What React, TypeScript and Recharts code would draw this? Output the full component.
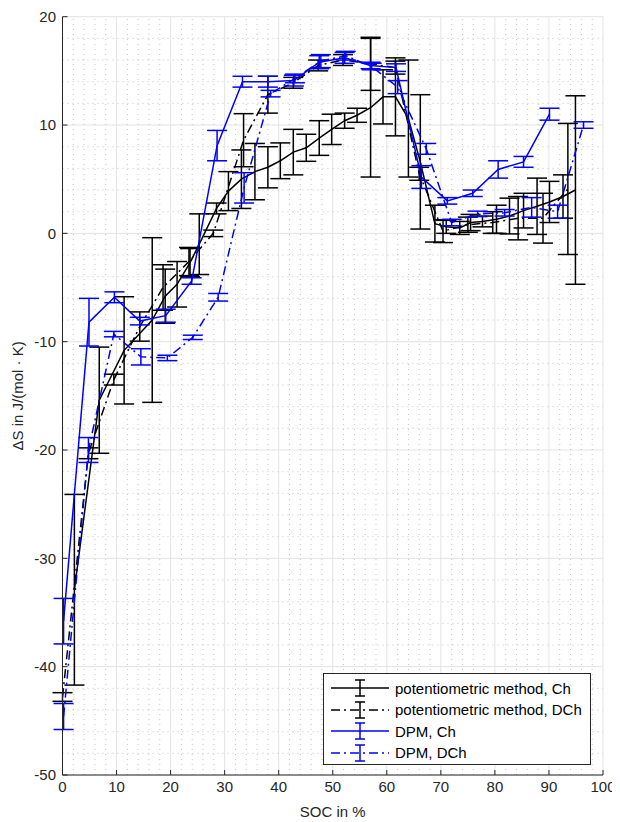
import React from "react";
import {
  ComposedChart,
  Line,
  XAxis,
  YAxis,
  CartesianGrid,
  ErrorBar,
  ReferenceLine,
} from "recharts";

// ---------- data ----------
const potChSoc = [2.2, 6.8, 11.4, 16.6, 19.0, 21.2, 23.6, 25.3, 28.5, 30.7, 33.1, 35.6, 38.0, 40.3, 42.7, 45.1, 47.5, 49.8, 52.2, 54.5, 57.0, 59.3, 61.6, 64.0, 66.2, 68.9, 71.0, 73.5, 75.5, 77.7, 80.3, 82.7, 85.3, 87.8, 90.1, 92.6, 94.9];
const potChDs = [-32.9, -15.4, -10.8, -8.0, -5.8, -4.7, -2.7, -1.0, 2.3, 3.9, 5.0, 5.7, 6.1, 6.7, 7.5, 7.9, 8.8, 9.6, 10.4, 10.9, 11.6, 12.6, 12.6, 10.6, 6.6, 0.9, 0.6, 0.5, 1.0, 1.1, 1.3, 1.6, 2.1, 2.5, 2.9, 3.4, 4.0];
const potChErr = [8.8, 4.9, 4.95, 7.6, 2.5, 2.1, 1.3, 2.8, 0.5, 1.8, 2.7, 2.6, 1.9, 1.65, 2.1, 1.25, 1.6, 1.4, 0.7, 0.65, 6.4, 2.5, 3.6, 5.4, 6.2, 1.7, 0.6, 0.6, 0.75, 0.5, 1.3, 1.65, 1.6, 2.6, 1.9, 2.0, 8.7];

const potDchSoc = [0.0, 4.8, 9.5, 14.3, 18.6, 23.4, 27.9, 33.5, 38.0, 42.7, 47.3, 51.9, 57.0, 61.6, 66.0, 70.4, 75.0, 79.6, 84.3, 88.9, 93.5];
const potDchDs = [-42.8, -20.3, -13.5, -8.6, -5.0, -2.6, 0.0, 8.6, 12.8, 13.9, 15.5, 16.0, 15.65, 15.3, 5.5, 0.2, 0.8, 1.0, 1.4, 1.4, 4.1];
const potDchErr = [0.4, 0.5, 0.5, 1.35, 2.1, 1.3, 0.3, 2.45, 1.7, 0.5, 0.5, 0.5, 2.45, 0.6, 0.6, 1.05, 0.7, 1.0, 2.0, 2.3, 6.05];

const dpmChSoc = [0.2, 4.9, 9.6, 14.3, 19.1, 23.9, 28.6, 33.3, 38.0, 42.8, 47.5, 52.2, 57.0, 61.7, 66.4, 71.2, 75.9, 80.6, 85.3, 90.1];
const dpmChDs = [-35.8, -8.2, -5.9, -8.1, -7.6, -4.4, 8.1, 14.0, 14.0, 14.1, 15.8, 16.2, 15.5, 15.3, 5.2, 3.0, 3.7, 5.9, 6.6, 11.0];
const dpmChErr = [2.1, 2.2, 0.5, 0.35, 0.6, 0.3, 1.4, 0.5, 0.5, 0.5, 0.6, 0.5, 0.3, 0.35, 1.05, 0.3, 0.3, 0.8, 0.5, 0.55];

const dpmDchSoc = [0.2, 4.8, 9.5, 14.5, 19.4, 24.1, 28.8, 33.6, 38.5, 43.0, 47.8, 52.4, 57.2, 62.0, 67.3, 72.0, 76.8, 81.8, 86.8, 91.6, 96.4];
const dpmDchDs = [-44.6, -20.0, -9.3, -11.4, -11.5, -9.6, -5.9, 4.2, 12.9, 14.3, 15.9, 16.4, 15.4, 13.5, 7.8, 1.0, 1.8, 1.9, 2.4, 2.0, 10.0];
const dpmDchErr = [1.2, 1.15, 0.25, 0.75, 0.25, 0.2, 0.35, 1.4, 0.3, 0.4, 0.6, 0.4, 0.3, 0.6, 0.5, 0.3, 0.25, 0.3, 0.9, 0.6, 0.3];

const xTicks = [0, 10, 20, 30, 40, 50, 60, 70, 80, 90, 100];
const yTicks = [-50, -40, -30, -20, -10, 0, 10, 20];
const xMinor = [2, 4, 6, 8, 12, 14, 16, 18, 22, 24, 26, 28, 32, 34, 36, 38, 42, 44, 46, 48, 52, 54, 56, 58, 62, 64, 66, 68, 72, 74, 76, 78, 82, 84, 86, 88, 92, 94, 96, 98];
const yMinor = [-48, -46, -44, -42, -38, -36, -34, -32, -28, -26, -24, -22, -18, -16, -14, -12, -8, -6, -4, -2, 2, 4, 6, 8, 12, 14, 16, 18];

const seriesNames = [
  "potentiometric method, Ch",
  "potentiometric method, DCh",
  "DPM, Ch",
  "DPM, DCh",
];

const build = (xs: number[], ys: number[], es: number[]) =>
  xs.map((x, i) => ({ x, y: ys[i], e: es[i] }));

const potCh = build(potChSoc, potChDs, potChErr);
const potDch = build(potDchSoc, potDchDs, potDchErr);
const dpmCh = build(dpmChSoc, dpmChDs, dpmChErr);
const dpmDch = build(dpmDchSoc, dpmDchDs, dpmDchErr);

const FONT = "'Liberation Sans', Arial, sans-serif";
const FS = 15;
const DASHDOT = "9 4 2 4";
const BLUE = "#0000ff";
const BLACK = "#000000";

const legendItems = [
  { name: seriesNames[0], color: BLACK, dash: undefined as string | undefined },
  { name: seriesNames[1], color: BLACK, dash: DASHDOT },
  { name: seriesNames[2], color: BLUE, dash: undefined as string | undefined },
  { name: seriesNames[3], color: BLUE, dash: DASHDOT },
];

function LegendBox() {
  return (
    <div
      style={{
        position: "absolute",
        left: 315,
        top: 665,
        width: 268,
        height: 92,
        background: "#fff",
        border: "1px solid #262626",
        boxSizing: "border-box",
        fontFamily: FONT,
        fontSize: FS,
        color: "#000",
      }}
    >
      {legendItems.map((it, i) => (
        <div
          key={it.name}
          style={{
            position: "absolute",
            left: 6,
            top: 4 + i * 21.5,
            height: 20,
            display: "flex",
            alignItems: "center",
            whiteSpace: "nowrap",
          }}
        >
          <svg width={60} height={20} style={{ display: "block" }}>
            <line x1={1} x2={59} y1={10} y2={10} stroke={it.color} strokeWidth={1.5} strokeDasharray={it.dash} />
            <line x1={30} x2={30} y1={2} y2={18} stroke={it.color} strokeWidth={1.5} />
            <line x1={25} x2={35} y1={2} y2={2} stroke={it.color} strokeWidth={1.5} />
            <line x1={25} x2={35} y1={18} y2={18} stroke={it.color} strokeWidth={1.5} />
          </svg>
          <span style={{ marginLeft: 5 }}>{it.name}</span>
        </div>
      ))}
    </div>
  );
}

export default function App() {
  const tickStyle = { fontFamily: FONT, fontSize: FS, fill: "#262626" };
  return (
    <div style={{ position: "relative", width: 612, height: 814 }}>
      <ComposedChart
        width={612}
        height={814}
        margin={{ top: 8.7, right: 17, bottom: 17, left: 4.5 }}
      >
        <CartesianGrid stroke="#e3e3e3" strokeWidth={1} />
        {xMinor.map((v) => (
          <ReferenceLine key={"xm" + v} x={v} stroke="#c4c4c4" strokeWidth={1} strokeDasharray="1 4" />
        ))}
        {yMinor.map((v) => (
          <ReferenceLine key={"ym" + v} y={v} stroke="#c4c4c4" strokeWidth={1} strokeDasharray="1 4" />
        ))}
        <XAxis
          dataKey="x"
          type="number"
          domain={[0, 100]}
          ticks={xTicks}
          allowDataOverflow
          tickSize={-5}
          tickMargin={11}
          height={30}
          stroke="#262626"
          tick={tickStyle}
          label={{ value: "SOC in %", position: "bottom", offset: 1, style: { fontFamily: FONT, fontSize: FS, fill: "#262626" } }}
        />
        <XAxis
          xAxisId="top"
          orientation="top"
          dataKey="x"
          type="number"
          domain={[0, 100]}
          ticks={xTicks}
          allowDataOverflow
          tickSize={-5}
          height={0}
          stroke="#262626"
          tickFormatter={() => ""}
        />
        <YAxis
          type="number"
          domain={[-50, 20]}
          ticks={yTicks}
          allowDataOverflow
          tickSize={-5}
          tickMargin={11.5}
          width={50}
          stroke="#262626"
          tick={tickStyle}
          label={{
            content: ({ viewBox }: any) => {
              const cy = viewBox.y + viewBox.height / 2;
              const cx = viewBox.x + 5;
              return (
                <text
                  x={cx}
                  y={cy}
                  transform={`rotate(-90 ${cx} ${cy})`}
                  textAnchor="middle"
                  dominantBaseline="central"
                  style={{ fontFamily: FONT, fontSize: FS, fill: "#262626" }}
                >
                  ΔS in J/(mol · K)
                </text>
              );
            },
          }}
        />
        <YAxis
          yAxisId="right"
          orientation="right"
          type="number"
          domain={[-50, 20]}
          ticks={yTicks}
          allowDataOverflow
          tickSize={-5}
          width={0}
          stroke="#262626"
          tickFormatter={() => ""}
        />
        <Line
          data={potCh}
          dataKey="y"
          name={seriesNames[0]}
          stroke={BLACK}
          strokeWidth={1.5}
          dot={false}
          isAnimationActive={false}
        >
          <ErrorBar dataKey="e" direction="y" width={10} stroke={BLACK} strokeWidth={1.5} />
        </Line>
        <Line
          data={potDch}
          dataKey="y"
          name={seriesNames[1]}
          stroke={BLACK}
          strokeWidth={1.5}
          strokeDasharray={DASHDOT}
          dot={false}
          isAnimationActive={false}
        >
          <ErrorBar dataKey="e" direction="y" width={10} stroke={BLACK} strokeWidth={1.5} strokeDasharray="none" />
        </Line>
        <Line
          data={dpmCh}
          dataKey="y"
          name={seriesNames[2]}
          stroke={BLUE}
          strokeWidth={1.5}
          dot={false}
          isAnimationActive={false}
        >
          <ErrorBar dataKey="e" direction="y" width={10} stroke={BLUE} strokeWidth={1.5} />
        </Line>
        <Line
          data={dpmDch}
          dataKey="y"
          name={seriesNames[3]}
          stroke={BLUE}
          strokeWidth={1.5}
          strokeDasharray={DASHDOT}
          dot={false}
          isAnimationActive={false}
        >
          <ErrorBar dataKey="e" direction="y" width={10} stroke={BLUE} strokeWidth={1.5} strokeDasharray="none" />
        </Line>
      </ComposedChart>
      <LegendBox />
    </div>
  );
}
